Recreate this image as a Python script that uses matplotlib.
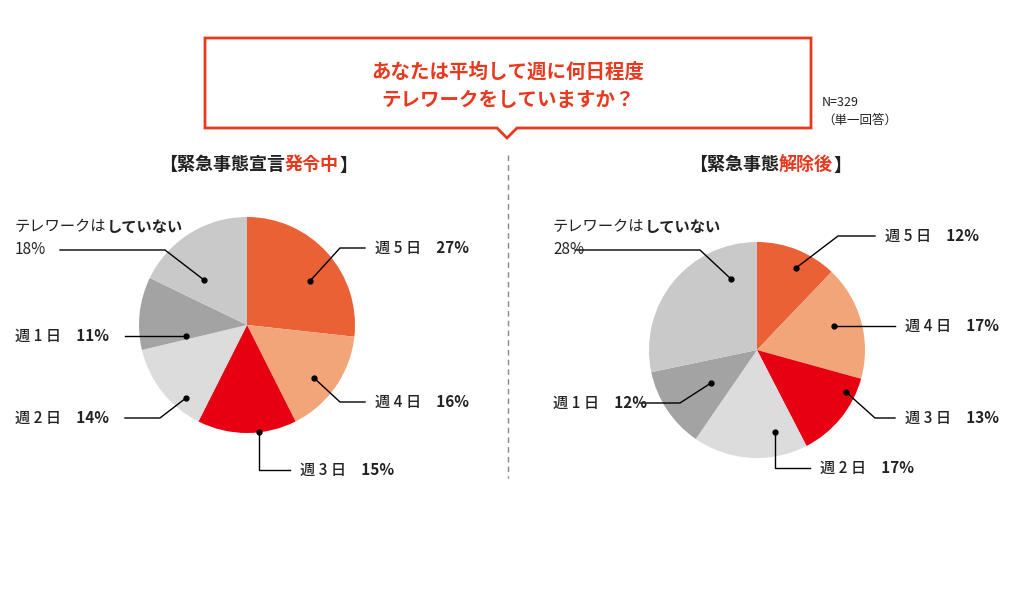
import matplotlib
matplotlib.use("Agg")
import matplotlib.pyplot as plt
from matplotlib.patches import Polygon

plt.rcParams['font.family'] = ['Noto Sans CJK JP', 'DejaVu Sans']

labels = ["週 5 日", "週 4 日", "週 3 日", "週 2 日", "週 1 日", "テレワークはしていない"]
left_vals = [27, 16, 15, 14, 11, 18]
right_vals = [12, 17, 13, 17, 12, 28]
colors = ["#EA6135", "#F3A57A", "#E60012", "#DCDCDC", "#A3A3A3", "#C9C9C9"]

H = 614
fig = plt.figure(figsize=(10.24, 6.14), dpi=100)
ax = fig.add_axes([0, 0, 1, 1])
ax.set_xlim(0, 1024); ax.set_ylim(0, H); ax.axis('off')

def Y(y): return H - y

ax.pie(left_vals, colors=colors, startangle=90, counterclock=False,
       center=(247, Y(325)), radius=108, frame=True)
ax.pie(right_vals, colors=colors, startangle=90, counterclock=False,
       center=(757, Y(350)), radius=108, frame=True)
ax.set_xlim(0, 1024); ax.set_ylim(0, H); ax.set_aspect('equal'); ax.axis('off')

fig.canvas.draw()
rend = fig.canvas.get_renderer()

def seq(x, y, parts, size=11, ha='left'):
    # parts: list of (text, color, weight)
    arts = []
    cx = x
    for t, c, w in parts:
        a = ax.text(cx, Y(y), t, color=c, fontsize=size, fontweight=w, va='center', ha='left')
        bb = a.get_window_extent(rend)
        cx += bb.width
        arts.append(a)
    if ha == 'center':
        shift = (cx - x) / 2
        for a in arts:
            a.set_x(a.get_position()[0] - shift)

def leader(pts):
    xs = [p[0] for p in pts]; ys = [Y(p[1]) for p in pts]
    ax.plot(xs, ys, color='black', lw=1)
    ax.plot(xs[0], ys[0], 'o', color='black', ms=3.5)

def lab(x, y, name, pct):
    seq(x, y, [(name, '#222', 'medium'), ("　" + pct, '#222', 'bold')])

# Left leaders
leader([(310, 281), (340, 248), (365, 248)]); lab(375, 248, labels[0], f"{left_vals[0]}%")
leader([(314, 378), (340, 402), (365, 402)]); lab(375, 402, labels[1], f"{left_vals[1]}%")
leader([(259, 432), (259, 470), (290, 470)]); lab(300, 470, labels[2], f"{left_vals[2]}%")
leader([(186, 398), (160, 418), (125, 418)]); lab(15, 418, labels[3], f"{left_vals[3]}%")
leader([(186, 336), (125, 336)]); lab(15, 336, labels[4], f"{left_vals[4]}%")
leader([(204, 280), (165, 250), (60, 250)])
seq(15, 227, [("テレワークは", '#222', 'normal'), ("していない", '#222', 'bold')])
ax.text(15, Y(250), f"{left_vals[5]}%", fontsize=11, va='center', color='#222')

# Right leaders
leader([(796, 268), (838, 236), (875, 236)]); lab(885, 236, labels[0], f"{right_vals[0]}%")
leader([(834, 326), (895, 326)]); lab(905, 326, labels[1], f"{right_vals[1]}%")
leader([(846, 392), (875, 418), (895, 418)]); lab(905, 418, labels[2], f"{right_vals[2]}%")
leader([(775, 432), (775, 468), (810, 468)]); lab(820, 468, labels[3], f"{right_vals[3]}%")
leader([(711, 383), (680, 403), (640, 403)]); lab(553, 403, labels[4], f"{right_vals[4]}%")
leader([(731, 279), (700, 250), (575, 250)])
seq(553, 227, [("テレワークは", '#222', 'normal'), ("していない", '#222', 'bold')])
ax.text(553, Y(250), f"{right_vals[5]}%", fontsize=11, va='center', color='#222')

# Title box with notch
red = "#E8381E"
box = [(205, 38), (811, 38), (811, 128), (517, 128), (507, 138), (497, 128), (205, 128)]
ax.add_patch(Polygon([(x, Y(y)) for x, y in box], closed=True, fill=False, ec=red, lw=2))
ax.text(508, Y(72), "あなたは平均して週に何日程度", color=red, fontsize=14, fontweight='bold', ha='center', va='center')
ax.text(508, Y(100), "テレワークをしていますか？", color=red, fontsize=14, fontweight='bold', ha='center', va='center')
ax.text(822, Y(103), "N=329", fontsize=9, va='center', color='#222')
ax.text(822, Y(120), "（単一回答）", fontsize=9, va='center', color='#222')

# Section titles
seq(258, 165, [("【緊急事態宣言", '#222', 'bold'), ("発令中", red, 'bold'), ("】", '#222', 'bold')], size=13, ha='center')
seq(770, 165, [("【緊急事態", '#222', 'bold'), ("解除後", red, 'bold'), ("】", '#222', 'bold')], size=13, ha='center')

ax.plot([508, 508], [Y(155), Y(478)], color='#888', lw=1, ls=(0, (4, 3)))

fig.savefig("out.png", dpi=100)
